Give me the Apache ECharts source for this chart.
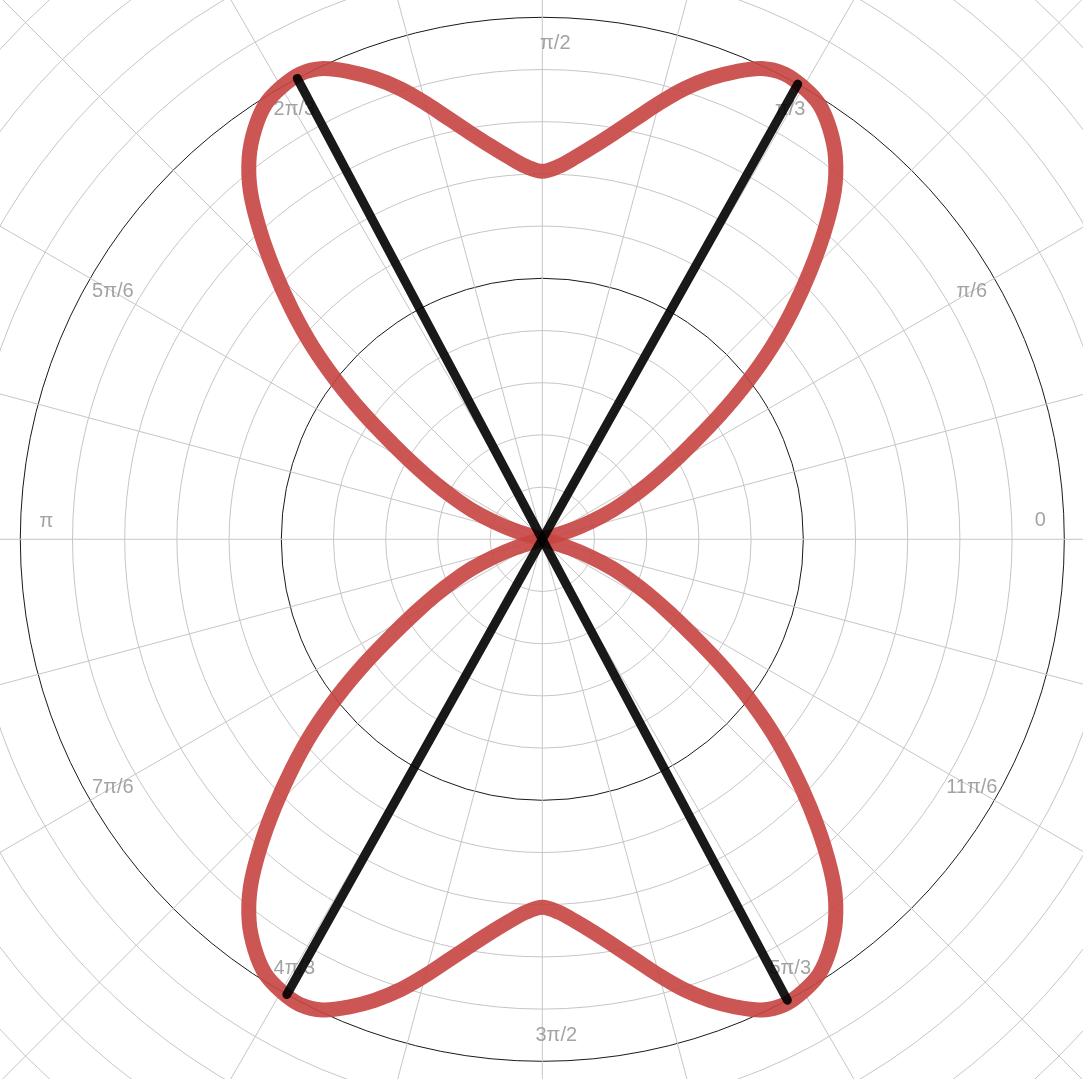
<!DOCTYPE html>
<html>
<head>
<meta charset="utf-8">
<style>
html,body{margin:0;padding:0;background:#fff;}
#chart{width:1083px;height:1079px;}
</style>
<script src="https://cdn.jsdelivr.net/npm/echarts@6/dist/echarts.min.js"></script>
</head>
<body>
<div id="chart"></div>
<script>
// Curve readings for the first quadrant (angle in degrees, radius in axis units)
const thetaDeg = [15, 17.5, 20, 22.5, 25, 27.5, 30, 32.5, 35, 37.5, 40, 42.5, 45, 47.5, 50, 52.5, 55, 57.5, 60, 62.5, 65, 67.5, 70, 72.5, 75, 77.5, 80, 82.5, 85, 87.5, 90];
const radiusVals = [0, 0.11, 0.2, 0.29, 0.37, 0.46, 0.56, 0.68, 0.83, 0.99, 1.15, 1.30, 1.45, 1.60, 1.74, 1.845, 1.92, 1.975, 2.0, 2.01, 1.99, 1.94, 1.88, 1.81, 1.73, 1.65, 1.58, 1.52, 1.47, 1.43, 1.41];

// Segments through the origin (endpoint angle pairs, degrees) and their radius
const segmentAngles = [[60.7, 240.7], [118, 298]];
const segmentRadius = 2;

// Angle tick labels
const tickAngles = [0, 30, 60, 90, 120, 150, 180, 210, 240, 270, 300, 330];
const tickLabels = ['0', 'π/6', 'π/3', 'π/2', '2π/3', '5π/6', 'π', '7π/6', '4π/3', '3π/2', '5π/3', '11π/6'];

// Build lobes from the quadrant readings (curve is symmetric about both axes)
const upperLobe = thetaDeg.map((t, i) => [radiusVals[i], t]);
for (let i = thetaDeg.length - 2; i >= 0; i--) {
  upperLobe.push([radiusVals[i], 180 - thetaDeg[i]]);
}
const lowerLobe = upperLobe.map(p => [p[0], 360 - p[1]]);

const LABEL_R = 1.9;
const labelOffsets = {0: [2, -19], 90: [13, 0], 180: [0, -18], 270: [14, 0]};
const labelData = tickAngles.map((a, i) => ({
  value: [LABEL_R, a],
  name: tickLabels[i],
  label: {offset: labelOffsets[a] || [0, 0]}
}));

const chart = echarts.init(document.getElementById('chart'), null, {renderer: 'canvas'});
const GRAY = '#c6c6c6';
const BLACK = '#1a1a1a';
const RED = 'rgba(199,68,64,0.9)';

const blackStyle = {color: 'rgba(0,0,0,0.9)', width: 9, cap: 'round', join: 'round'};

// Smooth curve through the polar points (positions come from the polar axes via api.coord)
function lobeRenderer(points) {
  return function (params, api) {
    const pts = points.map(p => api.coord(p));
    const n = pts.length;
    let d = 'M' + pts[0][0] + ' ' + pts[0][1];
    for (let i = 0; i < n - 1; i++) {
      const p0 = pts[Math.max(i - 1, 0)], p1 = pts[i], p2 = pts[i + 1], p3 = pts[Math.min(i + 2, n - 1)];
      const c1x = p1[0] + (p2[0] - p0[0]) / 6, c1y = p1[1] + (p2[1] - p0[1]) / 6;
      const c2x = p2[0] - (p3[0] - p1[0]) / 6, c2y = p2[1] - (p3[1] - p1[1]) / 6;
      d += ' C' + c1x + ' ' + c1y + ' ' + c2x + ' ' + c2y + ' ' + p2[0] + ' ' + p2[1];
    }
    return {
      type: 'path',
      shape: {pathData: d},
      style: {fill: 'none', stroke: RED, lineWidth: 15, lineCap: 'round', lineJoin: 'round'}
    };
  };
}

const series = [
  {
    type: 'scatter',
    coordinateSystem: 'polar',
    symbolSize: 1,
    itemStyle: {color: 'rgba(0,0,0,0)'},
    z: 1,
    silent: true,
    label: {
      show: true,
      position: 'inside',
      formatter: p => p.name,
      color: '#8c8c8c',
      fontSize: 20,
      fontFamily: 'Liberation Sans, Arial, sans-serif',
      align: 'center',
      verticalAlign: 'middle'
    },
    data: labelData
  },
  {
    type: 'custom', coordinateSystem: 'polar', data: [[1, 0]],
    renderItem: lobeRenderer(upperLobe), z: 2, silent: true
  },
  {
    type: 'custom', coordinateSystem: 'polar', data: [[1, 0]],
    renderItem: lobeRenderer(lowerLobe), z: 2, silent: true
  }
];
segmentAngles.forEach(pair => {
  series.push({
    type: 'line', coordinateSystem: 'polar', showSymbol: false,
    data: [[segmentRadius, pair[0]], [0, pair[0]], [segmentRadius, pair[1]]],
    lineStyle: blackStyle, z: 3, silent: true
  });
});

chart.setOption({
  animation: false,
  backgroundColor: '#ffffff',
  polar: {center: [542.3, 539.3], radius: 783},
  angleAxis: {
    type: 'value', min: 0, max: 360, interval: 15,
    startAngle: 0, clockwise: false,
    axisLine: {show: false}, axisTick: {show: false}, axisLabel: {show: false},
    splitLine: {show: true, lineStyle: {color: GRAY, width: 1}}
  },
  radiusAxis: {
    type: 'value', min: 0, max: 3, interval: 0.2,
    axisLine: {show: false}, axisTick: {show: false}, axisLabel: {show: false},
    splitLine: {show: true, lineStyle: {color: [BLACK, GRAY, GRAY, GRAY, GRAY], width: 1}}
  },
  series: series
});
</script>
</body>
</html>
